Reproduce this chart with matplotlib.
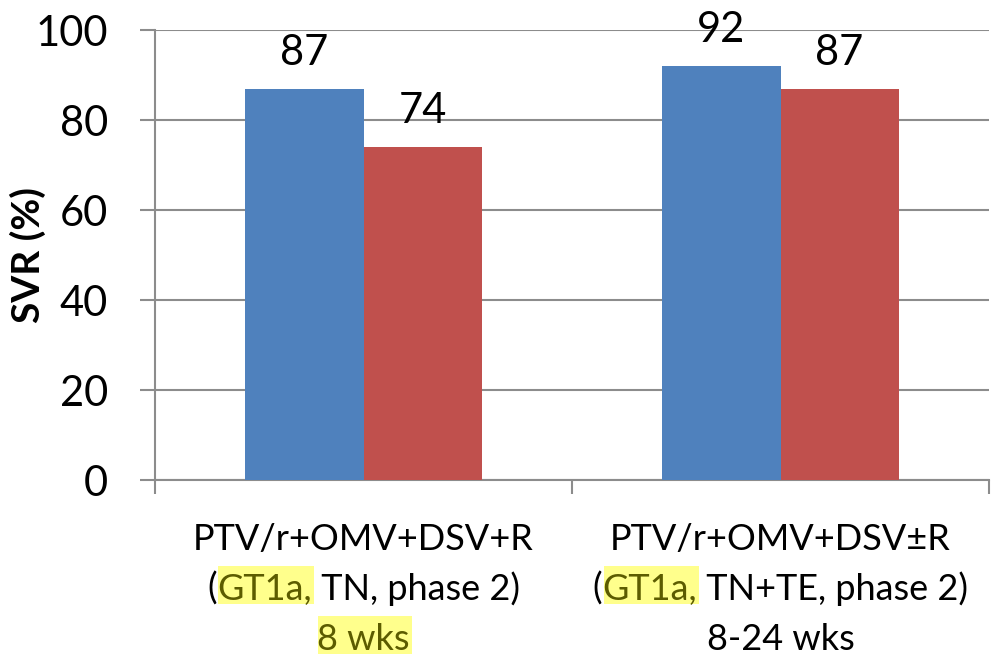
import matplotlib
matplotlib.use("Agg")
import matplotlib.pyplot as plt
from matplotlib.patches import Rectangle
import numpy as np

plt.rcParams['font.family'] = ['Lato', 'DejaVu Sans']

# Data
groups = ["PTV/r+OMV+DSV+R", "PTV/r+OMV+DSV±R"]
series_blue = [87, 92]
series_red = [74, 87]
y_ticks = [0, 20, 40, 60, 80, 100]

# Category labels: each line is a list of (text, highlighted) segments
label_lines = [
    [
        [("PTV/r+OMV+DSV+R", False)],
        [("(", False), ("GT1a,", True), (" TN, phase 2)", False)],
        [("8 wks", True)],
    ],
    [
        [("PTV/r+OMV+DSV±R", False)],
        [("(", False), ("GT1a,", True), (" TN+TE, phase 2)", False)],
        [("8-24 wks", False)],
    ],
]

BLUE = "#4F81BD"
RED = "#C0504D"
GRID = "#8C8C8C"
HL_FACE = "#FFFF8C"
HL_TEXT = "#5C5C00"

W, H, DPI = 992, 655, 100
fig = plt.figure(figsize=(W / DPI, H / DPI), dpi=DPI)
ax = fig.add_axes([155 / W, 175 / H, (989 - 155) / W, 450 / H])

x = np.arange(len(groups))
bw = 0.283
ax.bar(x - bw / 2, series_blue, width=bw, color=BLUE, zorder=3)
ax.bar(x + bw / 2, series_red, width=bw, color=RED, zorder=3)

for xi, v in zip(x - bw / 2, series_blue):
    ax.annotate(f"{v}", (xi, v), xytext=(0, 17), textcoords="offset points",
                ha="center", va="baseline", fontsize=30)
for xi, v in zip(x + bw / 2, series_red):
    ax.annotate(f"{v}", (xi, v), xytext=(0, 17), textcoords="offset points",
                ha="center", va="baseline", fontsize=30)

ax.set_xlim(-0.5, 1.5)
ax.set_ylim(0, 100)
ax.set_yticks(y_ticks)
ax.set_yticklabels([str(t) for t in y_ticks], fontsize=30)
ax.tick_params(axis="y", direction="out", length=11, width=1.5, color=GRID, pad=23)
ax.yaxis.grid(True, color=GRID, linewidth=1.5, zorder=0)
ax.set_axisbelow(True)

ax.set_xticks([-0.5, 0.5, 1.5])
ax.set_xticklabels([])
ax.tick_params(axis="x", direction="out", length=10, width=1.5, color=GRID)

for s in ["top", "right"]:
    ax.spines[s].set_visible(False)
for s in ["left", "bottom"]:
    ax.spines[s].set_color(GRID)
    ax.spines[s].set_linewidth(1.5)

ax.set_ylabel("SVR (%)", fontsize=28, fontweight="bold")
ax.yaxis.set_label_coords(-0.131, 0.5)

# Multi-segment category labels with highlighted parts
fig.canvas.draw()
renderer = fig.canvas.get_renderer()
baselines_px = [550, 600, 650]  # distance from top of figure
LABEL_FS = 26

for gi, lines in enumerate(label_lines):
    cx_disp = ax.transData.transform((x[gi], 0))[0]
    for li, segs in enumerate(lines):
        base_disp = H - baselines_px[li]
        texts = []
        widths = []
        for txt, hl in segs:
            t = fig.text(0, base_disp / H, txt, fontsize=LABEL_FS, va="baseline",
                         ha="left", color=HL_TEXT if hl else "black", zorder=3)
            widths.append(t.get_window_extent(renderer).width)
            texts.append((t, hl))
        total = sum(widths)
        start = cx_disp - total / 2
        for (t, hl), w in zip(texts, widths):
            t.set_x(start / W)
            if hl:
                fig.patches.append(Rectangle(
                    ((start + 1) / W, (base_disp - 4) / H), (w + 1) / W, 38 / H,
                    transform=fig.transFigure, facecolor=HL_FACE,
                    edgecolor="none", zorder=1))
            start += w

fig.savefig("out.png", dpi=DPI)
